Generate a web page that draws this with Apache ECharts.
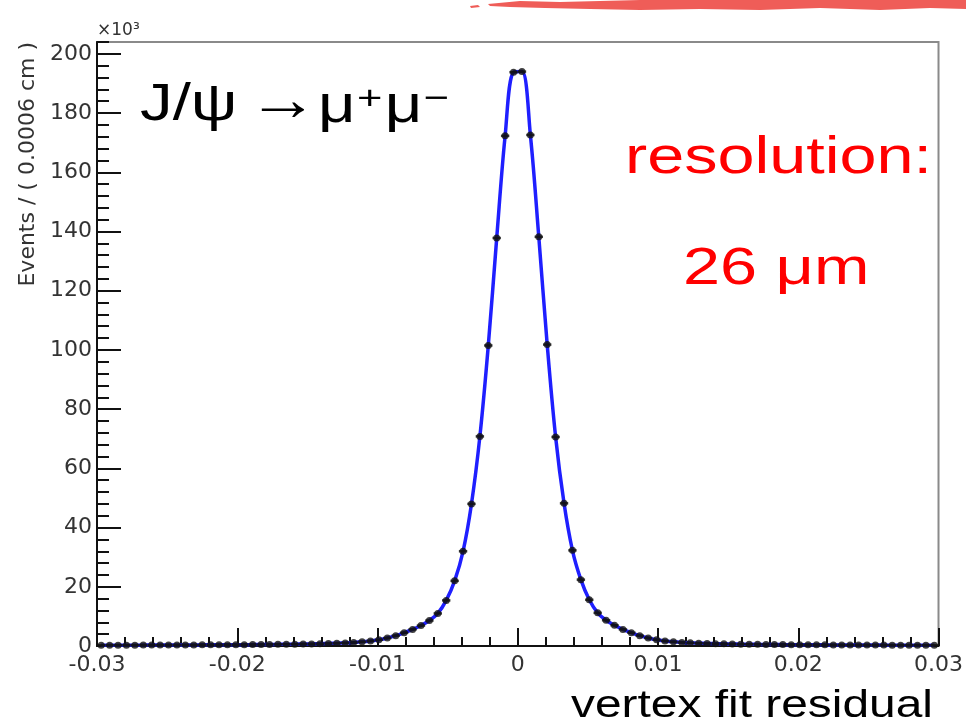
<!DOCTYPE html>
<html>
<head>
<meta charset="utf-8">
<script src="https://cdn.jsdelivr.net/npm/echarts@6/dist/echarts.min.js"></script>
<style>html,body{margin:0;padding:0;background:#fff;}#c{width:966px;height:725px;}</style>
</head>
<body>
<div id="c"></div>
<script>
// Histogram: 100 bins from -0.03 to 0.03 cm, bin width 0.0006 cm; counts in units of 10^3
const xMin = -0.03;
const xMax = 0.03;
const binWidth = 0.0006;
const xTickLabels = ['-0.03', '-0.02', '-0.01', '0', '0.01', '0.02', '0.03'];
const yTickLabels = ['0', '20', '40', '60', '80', '100', '120', '140', '160', '180', '200'];
// left half, from bin at -0.0297 up to bin at -0.0003
const countsLeft = [
  0.26, 0.27, 0.28, 0.28, 0.29, 0.30, 0.31, 0.32, 0.33, 0.34,
  0.35, 0.36, 0.38, 0.39, 0.40, 0.42, 0.43, 0.45, 0.47, 0.49,
  0.52, 0.55, 0.58, 0.62, 0.66, 0.71, 0.77, 0.85, 0.94, 1.05,
  1.2, 1.4, 1.7, 2.1, 2.7, 3.5, 4.5, 5.6, 6.9, 8.6,
  11.0, 15.4, 22.0, 32.0, 48.0, 70.8, 101.5, 137.8, 172.3, 193.8
];
// right half, from bin at +0.0003 up to bin at +0.0297
const countsRight = [
  194.0, 172.6, 138.2, 101.8, 70.6, 48.2, 32.3, 22.4, 15.6, 11.2,
  8.7, 7.0, 5.6, 4.5, 3.5, 2.7, 2.1, 1.7, 1.4, 1.2,
  1.06, 0.95, 0.86, 0.78, 0.72, 0.66, 0.62, 0.58, 0.55, 0.52,
  0.49, 0.47, 0.45, 0.43, 0.41, 0.40, 0.38, 0.37, 0.36, 0.34,
  0.33, 0.32, 0.31, 0.30, 0.29, 0.29, 0.28, 0.27, 0.26, 0.26
];
const counts = countsLeft.concat(countsRight);

const points = counts.map((v, i) => [xMin + (i + 0.5) * binWidth, v]);

const chart = echarts.init(document.getElementById('c'), null, {renderer: 'canvas'});
const tickColor = '#111';
const labelColor = '#333';
const axisFont = '"DejaVu Sans", sans-serif';
const slideFont = '"Liberation Sans", Arial, sans-serif';
const stretch = 1.28;

chart.setOption({
  animation: false,
  grid: {left: 97, right: 26, top: 42, bottom: 79, show: true, borderColor: '#8a8a8a', borderWidth: 2, backgroundColor: 'transparent'},
  xAxis: [{
    type: 'value', min: xMin, max: xMax, interval: 0.01,
    axisLine: {show: true, onZero: false, lineStyle: {color: tickColor, width: 2}},
    axisTick: {show: true, inside: true, length: 18, lineStyle: {color: tickColor, width: 2}},
    minorTick: {show: true, splitNumber: 5, length: 9, lineStyle: {color: tickColor, width: 2}},
    splitLine: {show: false},
    axisLabel: {
      color: labelColor, fontSize: 22, fontFamily: axisFont, margin: 8,
      formatter: v => xTickLabels[Math.round((v - xMin) / 0.01)] || ''
    }
  }],
  yAxis: [{
    type: 'value', min: 0, max: 204, interval: 20,
    axisLine: {show: true, onZero: false, lineStyle: {color: tickColor, width: 2}},
    axisTick: {show: true, inside: true, length: 24, lineStyle: {color: tickColor, width: 2}},
    splitLine: {show: false},
    axisLabel: {
      color: labelColor, fontSize: 22, fontFamily: axisFont, margin: 5, showMaxLabel: false,
      formatter: v => (v % 20 === 0 ? yTickLabels[v / 20] : '')
    }
  }, {
    type: 'value', min: 0, max: 204, interval: 4, position: 'left', offset: 0,
    axisLine: {show: false, onZero: false},
    axisTick: {show: true, inside: true, length: 12, lineStyle: {color: tickColor, width: 2}},
    splitLine: {show: false},
    axisLabel: {show: false}
  }],
  series: [{
    name: 'fit', type: 'line', data: points, smooth: 0.35, symbol: 'none',
    lineStyle: {color: '#1f1fff', width: 3.5}, z: 2
  }, {
    name: 'errx', type: 'scatter', data: points, symbol: 'rect', symbolSize: [8.4, 2.5],
    itemStyle: {color: '#111'}, z: 3
  }, {
    name: 'data', type: 'scatter', data: points, symbol: 'circle', symbolSize: 7,
    itemStyle: {color: '#111'}, z: 4
  }],
  graphic: [
    {type: 'polygon', z: 10, shape: {points: [[488,4],[520,1],[560,2],[640,0],[966,0],[966,9],[930,8],[880,10],[820,8],[760,10],[700,9],[640,10],[590,9],[545,8],[510,7],[490,6]]}, style: {fill: '#ef5d58'}},
    {type: 'polygon', z: 10, shape: {points: [[470,6],[478,5],[480,7],[471,8]]}, style: {fill: '#ef5d58'}},
    {type: 'text', z: 10, x: 97, y: 31, style: {text: '×10³', fontSize: 17, fontFamily: axisFont, fill: labelColor, textVerticalAlign: 'middle'}},
    {type: 'text', z: 10, x: 28, y: 42, rotation: Math.PI / 2, style: {text: 'Events / ( 0.0006 cm )', fontSize: 22, fontFamily: axisFont, fill: labelColor, textAlign: 'right', textVerticalAlign: 'middle'}},
    {type: 'text', z: 10, x: 140, y: 106, scaleX: stretch, style: {text: 'J/ψ', fontSize: 51, fontFamily: slideFont, fill: '#000', textVerticalAlign: 'middle'}},
    {type: 'text', z: 10, x: 247, y: 103, scaleX: 1.15, style: {text: '→', fontSize: 62, fontFamily: slideFont, fill: '#000', textVerticalAlign: 'middle'}},
    {type: 'text', z: 10, x: 318, y: 83, scaleX: stretch, style: {
      text: '{m|μ}{s|+}{m|μ}{s|−}', fontFamily: slideFont, fill: '#000', textVerticalAlign: 'top',
      rich: {
        m: {fontSize: 51, fontFamily: slideFont, fill: '#000', verticalAlign: 'bottom', lineHeight: 50},
        s: {fontSize: 34, fontFamily: slideFont, fill: '#000', verticalAlign: 'top', lineHeight: 34, padding: [0, 2, 0, 1]}
      }
    }},
    {type: 'text', z: 10, x: 625, y: 159, scaleX: stretch, style: {text: 'resolution:', fontSize: 52, fontFamily: slideFont, fill: '#ff0000', textVerticalAlign: 'middle'}},
    {type: 'text', z: 10, x: 683, y: 270, scaleX: stretch, style: {text: '26 μm', fontSize: 52, fontFamily: slideFont, fill: '#ff0000', textVerticalAlign: 'middle'}},
    {type: 'text', z: 10, x: 571, y: 707, scaleX: 1.26, style: {text: 'vertex fit residual', fontSize: 38, fontFamily: slideFont, fill: '#000', textVerticalAlign: 'middle'}}
  ]
});
</script>
</body>
</html>
